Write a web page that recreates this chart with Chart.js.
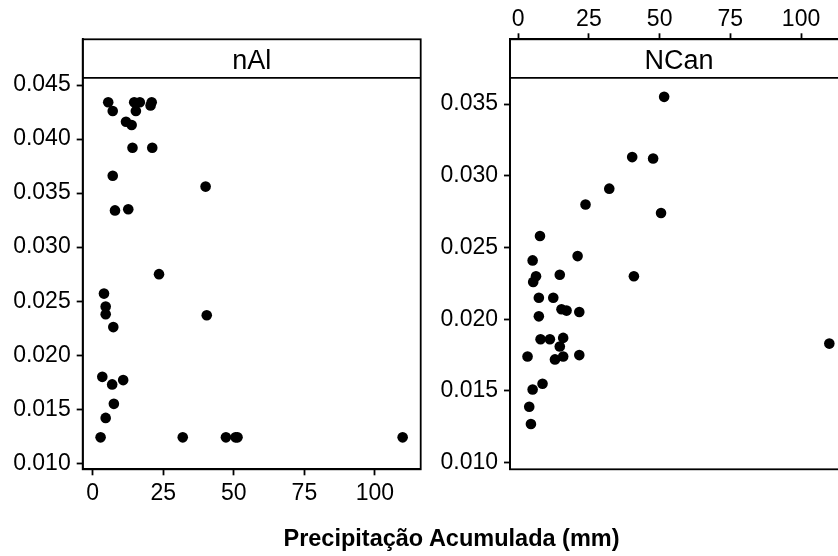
<!DOCTYPE html>
<html>
<head>
<meta charset="utf-8">
<script src="https://cdn.jsdelivr.net/npm/chart.js@4/dist/chart.umd.min.js"></script>
<style>
  html, body { margin: 0; padding: 0; background: #fff; }
  #wrap { position: relative; width: 838px; height: 556px; overflow: hidden; background: #fff; }
  #wrap canvas { position: absolute; top: 0; }
  #left { left: 0; }
  #right { left: 430px; }
  #xtitle {
    position: absolute; left: 451.5px; top: 526.8px; transform: translateX(-50%);
    white-space: nowrap; font: bold 23.5px "Liberation Sans", Arial, sans-serif;
    line-height: 23.5px; letter-spacing: 0; color: #000;
  }
</style>
</head>
<body>
<div id="wrap">
  <canvas id="left" width="440" height="556"></canvas>
  <canvas id="right" width="430" height="556"></canvas>
  <div id="xtitle">Precipitação Acumulada (mm)</div>
</div>
<script>
// Panel names
const panelNames = ['nAl', 'NCan'];

// Accumulated precipitation (mm) and the response for each panel
const nAlPrecip = [5.5, 7.1, 14.7, 16.7, 15.3, 20.9, 20.5, 11.8, 13.8, 14.1, 21.1, 7.1, 40.0, 7.9, 12.6, 23.5,
                   4.0, 4.6, 4.6, 7.3, 40.4, 3.4, 6.9, 10.8, 7.5, 4.6, 2.8, 31.9, 47.2, 50.6, 51.3, 109.8];
const nAlValues = [0.0434, 0.0426, 0.0434, 0.0434, 0.0426, 0.0434, 0.0431, 0.0416, 0.0413, 0.0392, 0.0392,
                   0.0366, 0.0356, 0.0334, 0.0335, 0.0275, 0.0257, 0.0245, 0.0238, 0.0226, 0.0237, 0.0180,
                   0.0173, 0.0177, 0.0155, 0.0142, 0.0124, 0.0124, 0.0124, 0.0124, 0.0124, 0.0124];

const nCanPrecip = [51.6, 40.3, 47.7, 32.2, 23.8, 50.5, 7.7, 5.1, 21.0, 6.3, 5.3, 14.7, 40.9, 7.3, 12.4, 7.3,
                    15.3, 17.1, 21.6, 7.9, 11.2, 15.9, 14.7, 3.3, 13.0, 15.9, 21.6, 5.1, 8.6, 3.9, 4.5, 110.0];
const nCanValues = [0.0355, 0.0313, 0.0312, 0.0291, 0.0280, 0.0274, 0.0258, 0.0241, 0.0244, 0.0230, 0.0226,
                    0.0231, 0.0230, 0.0215, 0.0215, 0.0202, 0.0207, 0.0206, 0.0205, 0.0186, 0.0186, 0.0187,
                    0.0181, 0.0174, 0.0172, 0.0174, 0.0175, 0.0151, 0.0155, 0.0139, 0.0127, 0.0183];

// Tick labels
const xTicks = [0, 25, 50, 75, 100];
const nAlYTicks = [0.010, 0.015, 0.020, 0.025, 0.030, 0.035, 0.040, 0.045];
const nCanYTicks = [0.010, 0.015, 0.020, 0.025, 0.030, 0.035];

const INK = '#000';
const LW = 1.8;
const FONT = '"Liberation Sans", Arial, sans-serif';
const STRIP_H = 38.5;

Chart.defaults.font.family = FONT;
Chart.defaults.font.size = 23;
Chart.defaults.color = INK;

// Draws the panel frame and the header strip carrying the panel name
const stripPlugin = {
  id: 'strip',
  afterDraw(chart, args, opts) {
    const { ctx, chartArea: a } = chart;
    ctx.save();
    ctx.strokeStyle = INK;
    ctx.lineWidth = LW;
    ctx.strokeRect(a.left, a.top, a.right - a.left, a.bottom - a.top);
    ctx.beginPath();
    ctx.moveTo(a.left, a.top + STRIP_H);
    ctx.lineTo(a.right, a.top + STRIP_H);
    ctx.stroke();
    ctx.fillStyle = INK;
    ctx.font = '27px ' + FONT;
    ctx.textAlign = 'center';
    ctx.textBaseline = 'alphabetic';
    ctx.fillText(opts.label, (a.left + a.right) / 2, a.top + 30);
    ctx.restore();
  }
};

function toPoints(xs, ys) {
  return xs.map((x, i) => ({ x: x, y: ys[i] }));
}

function axisStyle() {
  return {
    grid: { drawOnChartArea: false, drawTicks: true, tickLength: 6, tickColor: INK, tickWidth: LW },
    border: { display: true, color: INK, width: LW }
  };
}

function makePanel(canvasId, opt) {
  return new Chart(document.getElementById(canvasId), {
    type: 'scatter',
    data: {
      datasets: [{
        data: toPoints(opt.xs, opt.ys),
        pointRadius: 5.3,
        pointHoverRadius: 5.3,
        pointBackgroundColor: INK,
        pointBorderWidth: 0
      }]
    },
    options: {
      responsive: false,
      animation: false,
      devicePixelRatio: 1,
      events: [],
      layout: { padding: opt.padding },
      plugins: {
        legend: { display: false },
        tooltip: { enabled: false },
        strip: { label: opt.label }
      },
      scales: {
        x: Object.assign({
          type: 'linear',
          position: opt.xPosition,
          min: opt.xMin,
          max: opt.xMax,
          afterFit: s => { s.height = opt.xHeight; },
          afterBuildTicks: s => { s.ticks = xTicks.map(v => ({ value: v })); },
          ticks: { padding: opt.xPad, maxRotation: 0, autoSkip: false, color: INK,
                   callback: v => String(v) }
        }, axisStyle()),
        y: Object.assign({
          type: 'linear',
          position: 'left',
          min: opt.yMin,
          max: opt.yMax,
          afterFit: s => { s.width = opt.yWidth; },
          afterBuildTicks: s => { s.ticks = opt.yTicks.map(v => ({ value: v })); },
          ticks: { padding: 6, autoSkip: false, color: INK, callback: v => v.toFixed(3) }
        }, axisStyle())
      }
    },
    plugins: [stripPlugin]
  });
}

// Left panel: x axis along the bottom
makePanel('left', {
  label: panelNames[0],
  xs: nAlPrecip, ys: nAlValues, yTicks: nAlYTicks,
  xPosition: 'bottom', xMin: -3.54, xMax: 116.2, xHeight: 86.7, xPad: 5,
  yMin: 0.009445, yMax: 0.04923, yWidth: 82.7,
  padding: { top: 39.3, left: 0, right: 19.3, bottom: 0 }
});

// Right panel: x axis along the top, above the strip
makePanel('right', {
  label: panelNames[1],
  xs: nCanPrecip, ys: nCanValues, yTicks: nCanYTicks,
  xPosition: 'top', xMin: -2.9, xMax: 116.6, xHeight: 39.3, xPad: 0,
  yMin: 0.00954, yMax: 0.03951, yWidth: 80,
  padding: { top: 0, left: 0, right: 12, bottom: 86.7 }
});
</script>
</body>
</html>
